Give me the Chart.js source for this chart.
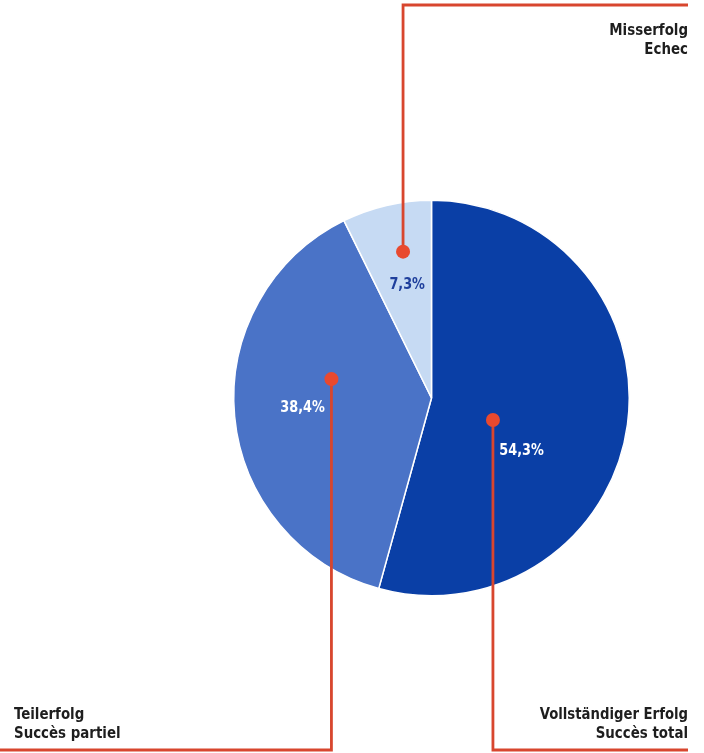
<!DOCTYPE html>
<html>
<head>
<meta charset="utf-8">
<script src="https://cdn.jsdelivr.net/npm/chart.js@4/dist/chart.umd.min.js"></script>
<style>
  html, body { margin: 0; padding: 0; background: #ffffff; }
  #wrap { width: 704px; height: 753px; position: relative; }
</style>
</head>
<body>
<div id="wrap"><canvas id="c" width="704" height="753"></canvas></div>
<script>
// ---- data ----
const categoriesDE = ["Vollständiger Erfolg", "Teilerfolg", "Misserfolg"];
const categoriesFR = ["Succès total", "Succès partiel", "Echec"];
const shares = [54.3, 38.4, 7.3];
const valueLabels = ["54,3%", "38,4%", "7,3%"];

// ---- styles ----
const sliceColors = ["#0a3fa6", "#4a73c7", "#c6daf3"];
const valueColors = ["#ffffff", "#ffffff", "#1f3f9c"];
const RED = "#d8462e";
const FONT = "'Liberation Sans Narrow', 'DejaVu Sans Condensed', 'Roboto Condensed', Arial, sans-serif";

// callout geometry relative to the pie (angle clockwise from top in degrees, radius fraction)
const dotPolar = [ {a: 109.7, f: 0.33}, {a: 280.7, f: 0.515}, {a: 349.0, f: 0.754} ];
const valuePolar = [ {a: 120.4, f: 0.528}, {a: 265.6, f: 0.654}, {a: 347.9, f: 0.587} ];

function polar(cx, cy, R, p) {
  const r = p.a * Math.PI / 180;
  return { x: cx + R * p.f * Math.sin(r), y: cy - R * p.f * Math.cos(r) };
}

function narrowText(ctx, t, x, y, k) {
  const w = ctx.measureText(t).width;
  ctx.fillText(t, x, y, w * k);
}

const calloutPlugin = {
  id: 'callouts',
  afterDraw(chart) {
    const ctx = chart.ctx;
    const arc = chart.getDatasetMeta(0).data[0];
    const cx = arc.x, cy = arc.y, R = arc.outerRadius;
    const W = chart.width, H = chart.height;
    const topY = 5, botY = H - 3, rightX = W - 16, leftX = 0;

    // value labels
    ctx.save();
    ctx.font = "bold 15.5px " + FONT;
    ctx.textAlign = "center";
    ctx.textBaseline = "middle";
    valueLabels.forEach((t, i) => {
      const p = polar(cx, cy, R, valuePolar[i]);
      ctx.fillStyle = valueColors[i];
      narrowText(ctx, t, p.x, p.y, 0.92);
    });
    ctx.restore();

    // red lines
    const d = dotPolar.map(p => polar(cx, cy, R, p));
    ctx.save();
    ctx.strokeStyle = RED;
    ctx.lineWidth = 2.8;
    ctx.lineCap = "butt";
    ctx.beginPath();
    ctx.moveTo(d[0].x, d[0].y); ctx.lineTo(d[0].x, botY); ctx.lineTo(rightX, botY);
    ctx.stroke();
    ctx.beginPath();
    ctx.moveTo(d[1].x, d[1].y); ctx.lineTo(d[1].x, botY); ctx.lineTo(leftX, botY);
    ctx.stroke();
    ctx.beginPath();
    ctx.moveTo(d[2].x, d[2].y); ctx.lineTo(d[2].x, topY); ctx.lineTo(rightX, topY);
    ctx.stroke();
    ctx.fillStyle = "#e8492f";
    d.forEach(p => { ctx.beginPath(); ctx.arc(p.x, p.y, 7, 0, Math.PI * 2); ctx.fill(); });
    ctx.restore();

    // category labels
    ctx.save();
    ctx.font = "bold 16px " + FONT;
    ctx.fillStyle = "#1e1e1e";
    ctx.textBaseline = "alphabetic";
    ctx.textAlign = "right";
    narrowText(ctx, categoriesDE[2], rightX, 35, 0.93);
    narrowText(ctx, categoriesFR[2], rightX, 54, 0.93);
    narrowText(ctx, categoriesDE[0], rightX, 719, 0.92);
    narrowText(ctx, categoriesFR[0], rightX, 738, 0.93);
    ctx.textAlign = "left";
    narrowText(ctx, categoriesDE[1], 14, 719, 0.93);
    narrowText(ctx, categoriesFR[1], 14, 738, 0.93);
    ctx.restore();
  }
};

new Chart(document.getElementById('c'), {
  type: 'pie',
  data: {
    labels: categoriesDE,
    datasets: [{
      data: shares,
      backgroundColor: sliceColors,
      borderColor: "#ffffff",
      borderWidth: 1.5
    }]
  },
  options: {
    responsive: false,
    animation: false,
    layout: { padding: { left: 233, right: 74, top: 199.5, bottom: 156.5 } },
    plugins: { legend: { display: false }, tooltip: { enabled: false } }
  },
  plugins: [calloutPlugin]
});
</script>
</body>
</html>
